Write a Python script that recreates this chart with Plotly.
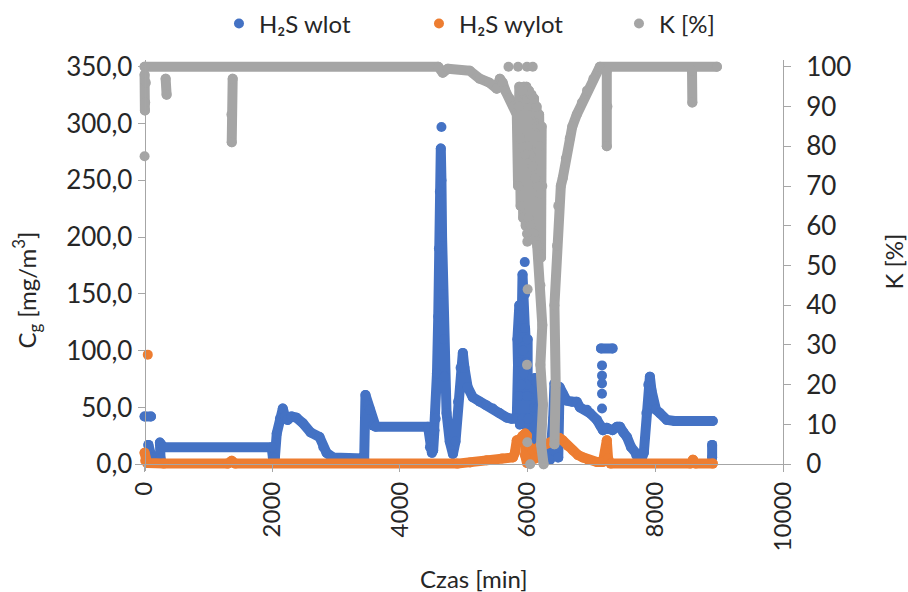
import plotly.graph_objects as go

# --- H2S inlet concentration [mg/m3] vs time [min] (None = gap between runs)
wlot_t = [0, 100, None,
          60, 110, 250, 240, 300, 1990, 2010, 2040, 2070, 2120, 2165, 2200, 2240, 2300, 2380,
          2480, 2600, 2740, 2800, 2850, 2950, 3200, 3440, 3460, 3500, 3530, 3580, 3620, 4440,
          4470, 4500, 4540, 4520, 4560, 4580, 4600, 4610, 4625, 4640, 4650, 4660, 4670, 4690,
          4700, 4730, 4780, 4830, 4870, 4910, 4950, 4985, 5010, 5060, 5140, 5250, 5350, 5455,
          5560, 5675, 5750, 5830, 5850, 5870, 5880, 5900, 5920, 5940, 5960, 5980, 6000, 6020,
          6000, 5980, 5960, 5940, 5920, 5900, 5880, 5860, 5840, 5870, 5900, 5930, 5960, 5990,
          6010, 6030, 6050, 6080, 6100, 6120, 6140, 6160, 6180, 6200, 6260, 6350, 6400, 6420,
          6440, 6460, 6480, 6500, 6550, 6610, 6700, 6770, 6820, 6930, 6975, 7085, 7140, 7180,
          7240, 7330, 7400, 7445, 7500, 7555, 7620, 7700, 7780, 7820, 7860, 7890, 7915, 7940,
          7965, 8010, 8070, 8180, 8300, 8900, None,
          8890, 8890, None,
          7150, 7330]
wlot_c = [42, 42, None,
          17, 6, 5, 19, 15, 15, 6, 5, 27, 40, 49, 42, 39, 42, 41,
          36, 28, 24, 15, 10, 6, 5, 5, 61, 52, 48, 34, 33, 33,
          15, 10, 30, 12, 40, 80, 130, 190, 240, 278, 250, 200, 150, 110,
          77, 45, 20, 9, 20, 55, 85, 98, 85, 68, 59, 55, 52, 49,
          45, 41, 40, 40, 90, 60, 130, 100, 167, 120, 150, 90, 110, 60,
          40, 70, 35, 80, 40, 70, 35, 60, 110, 140, 120, 100, 120, 60,
          40, 10, 3, 5, 50, 76, 72, 50, 25, 6, 3, 4, 40, 71,
          50, 20, 6, 68, 62, 56, 55, 55, 50, 48, 45, 39, 34, 30,
          32, 30, 33, 33, 28, 24, 15, 8, 4, 10, 45, 70, 77, 65,
          56, 48, 45, 39, 38, 38, None,
          17, 6, None,
          102, 102]
# isolated inlet readings
wlot_pt_t = [4650, 5955, 7165, 7165, 7165, 7165, 7165]
wlot_pt_c = [297, 178, 87, 78, 71, 62, 49]

# --- H2S outlet concentration [mg/m3]
wylot_t = [0, 10, 40, 300, 1300, 1365, 1420, 4900, 5100, 5360, 5600, 5770, 5800, 5830, 5880,
           5920, 5960, 5990, 5960, 5990, 6030, 6080, 6120, 6150, 6190, 6250, 6350, 6455, 6500,
           6550, 6630, 6710, 6790, 6865, 6950, 7085, 7180, 7220, 7240, 7260, 7300, 8550, 8590,
           8630, 8900]
wylot_c = [10, 3, 1, 0.5, 0.5, 3, 0.5, 0.5, 1.5, 3.5, 5, 6, 10, 21, 22,
           25, 27, 25, 8, 1, 15, 12, 5, 14, 15, 17, 19, 24, 23,
           21, 16, 12, 8, 6, 4, 2, 2, 10, 21, 5, 0.5, 0.5, 4,
           0.5, 0.5]
wylot_pt_t = [50]
wylot_pt_c = [96.5]

# --- removal efficiency K [%]
k_t = [0, 10, 20, 5, None,
       0, 4600, 4670, 4750, 5095, 5250, 5400, 5515, 5565, 5610, 5650, 5720, 5780, 5830, 5850,
       5870, 5890, 5910, 5930, 5950, 5970, 5990, 6010, 6030, 6050, 6070, 6090, 6110, 6130,
       6150, 6170, 6190, 6210, 6230, 6220, 6200, 6180, 6160, 6140, 6120, 6100, 6080, 6060,
       6040, 6020, 6000, 5980, 5960, 5940, 5920, 5900, 5880, 5860, None,
       6150, 6200, 6230, 6200, 6240, 6210, 6250, None,
       6420, 6440, 6420, 6460, 6480, 6520, 6550, 6600, 6660, 6700, 6770, 6850, 6930, 7030,
       7130, 8965, None,
       330, 345, None,
       1380, 1360, 1365, None,
       7240, 7250, 7240, None,
       8575, 8580]
k_v = [98, 91, 96, 89, None,
       100, 100, 98.5, 99.5, 99, 97, 96, 94.5, 97, 96, 94, 92, 90, 88, 70,
       95, 65, 94, 62, 93, 60, 92, 62, 93, 60, 90, 58, 88, 56,
       85, 55, 80, 52, 70, 85, 68, 88, 70, 90, 72, 92, 75, 93,
       78, 94, 80, 95, 78, 95, 80, 94, 82, 90, None,
       55, 45, 35, 25, 15, 5, 0, None,
       5, 20, 40, 55, 65, 70, 72, 77, 82, 85, 88, 91, 94, 97,
       100, 100, None,
       97, 93, None,
       97, 88, 81, None,
       99, 90, 80, None,
       99, 91]
k_pt_t = [0, 5700, 5850, 5990, 6080, 5990, 5995, 6000, 5990, 5995, 6040]
k_pt_v = [77.5, 100, 100, 100, 100, 58, 56, 44, 25, 5.5, 0]

BLUE, ORANGE, GREY = "#4472C4", "#ED7D31", "#A5A5A5"
TXT = "#262626"
FONT = "Lato"
SZ = 10

fig = go.Figure()


def add_series(name, color, bt, bv, pt, pv, yaxis):
    # dense readings drawn as a thick band of dots
    fig.add_trace(go.Scatter(x=bt, y=bv, mode="lines+markers", yaxis=yaxis,
                             line=dict(color=color, width=SZ), connectgaps=False,
                             marker=dict(color=color, size=SZ), showlegend=False,
                             legendgroup=name, hoverinfo="skip"))
    fig.add_trace(go.Scatter(x=pt, y=pv, mode="markers", name=name, yaxis=yaxis,
                             marker=dict(color=color, size=SZ), legendgroup=name))


add_series("H₂S wlot", BLUE, wlot_t, wlot_c, wlot_pt_t, wlot_pt_c, "y")
add_series("H₂S wylot", ORANGE, wylot_t, wylot_c, wylot_pt_t, wylot_pt_c, "y")
add_series("K [%]", GREY, k_t, k_v, k_pt_t, k_pt_v, "y2")

AX = "#A6A6A6"
x_lo, x_hi = -150, 10000
y_lo, y_hi = -6, 356
k_lo, k_hi = y_lo / 350 * 100, y_hi / 350 * 100

fig.update_layout(
    width=908, height=592,
    margin=dict(l=135.4, r=125, t=60.2, b=121.2, autoexpand=False),
    paper_bgcolor="white", plot_bgcolor="white",
    separators=", ",
    font=dict(family=FONT, size=24, color=TXT),
    xaxis=dict(range=[x_lo, x_hi], tickvals=list(range(0, 10001, 2000)), tickformat="d",
               tickangle=-90, showgrid=False, zeroline=False, showline=True,
               linecolor=AX, linewidth=1, ticks="outside", ticklen=7, tickcolor=AX,
               anchor="free", position=(0 - y_lo) / (y_hi - y_lo),
               tickfont=dict(size=24, color=TXT)),
    yaxis=dict(range=[y_lo, y_hi], tickvals=list(range(0, 351, 50)), tickformat=".1f",
               showgrid=False, zeroline=False, showline=True, linecolor=AX, linewidth=1,
               ticks="outside", ticklen=7, tickcolor=AX,
               anchor="free", position=(0 - x_lo) / (x_hi - x_lo),
               tickfont=dict(size=26, color=TXT)),
    yaxis2=dict(range=[k_lo, k_hi], tickvals=list(range(0, 101, 10)), overlaying="y",
                side="right", anchor="x", showgrid=False, zeroline=False, showline=True,
                linecolor=AX, linewidth=1, ticks="outside", ticklen=7, tickcolor=AX,
                ticklabelstandoff=10, tickfont=dict(size=26, color=TXT)),
    legend=dict(orientation="h", x=0.1296, y=1.088, xanchor="left", yanchor="middle",
                entrywidth=155, entrywidthmode="pixels", font=dict(size=24, color=TXT),
                bgcolor="rgba(0,0,0,0)"),
    annotations=[
        dict(text="Czas [min]", x=0.5229, y=-0.2611, xref="paper", yref="paper",
             showarrow=False, xanchor="center", yanchor="middle",
             font=dict(size=24, color=TXT)),
        dict(text="C<sub>g</sub> [mg/m<sup>3</sup>]", x=-0.1674, y=0.4403, xref="paper",
             yref="paper", showarrow=False, textangle=-90, xanchor="center",
             yanchor="middle", font=dict(size=24, color=TXT)),
        dict(text="K [%]", x=1.169, y=0.5085, xref="paper", yref="paper",
             showarrow=False, textangle=-90, xanchor="center", yanchor="middle",
             font=dict(size=24, color=TXT)),
    ],
)

# round joins so the thick traces read as overlapping dots
round_js = ("document.querySelectorAll('path.js-line').forEach(function(p){"
            "p.style.strokeLinejoin='round';p.style.strokeLinecap='round';});")
fig.write_html("out.html", post_script=round_js)
